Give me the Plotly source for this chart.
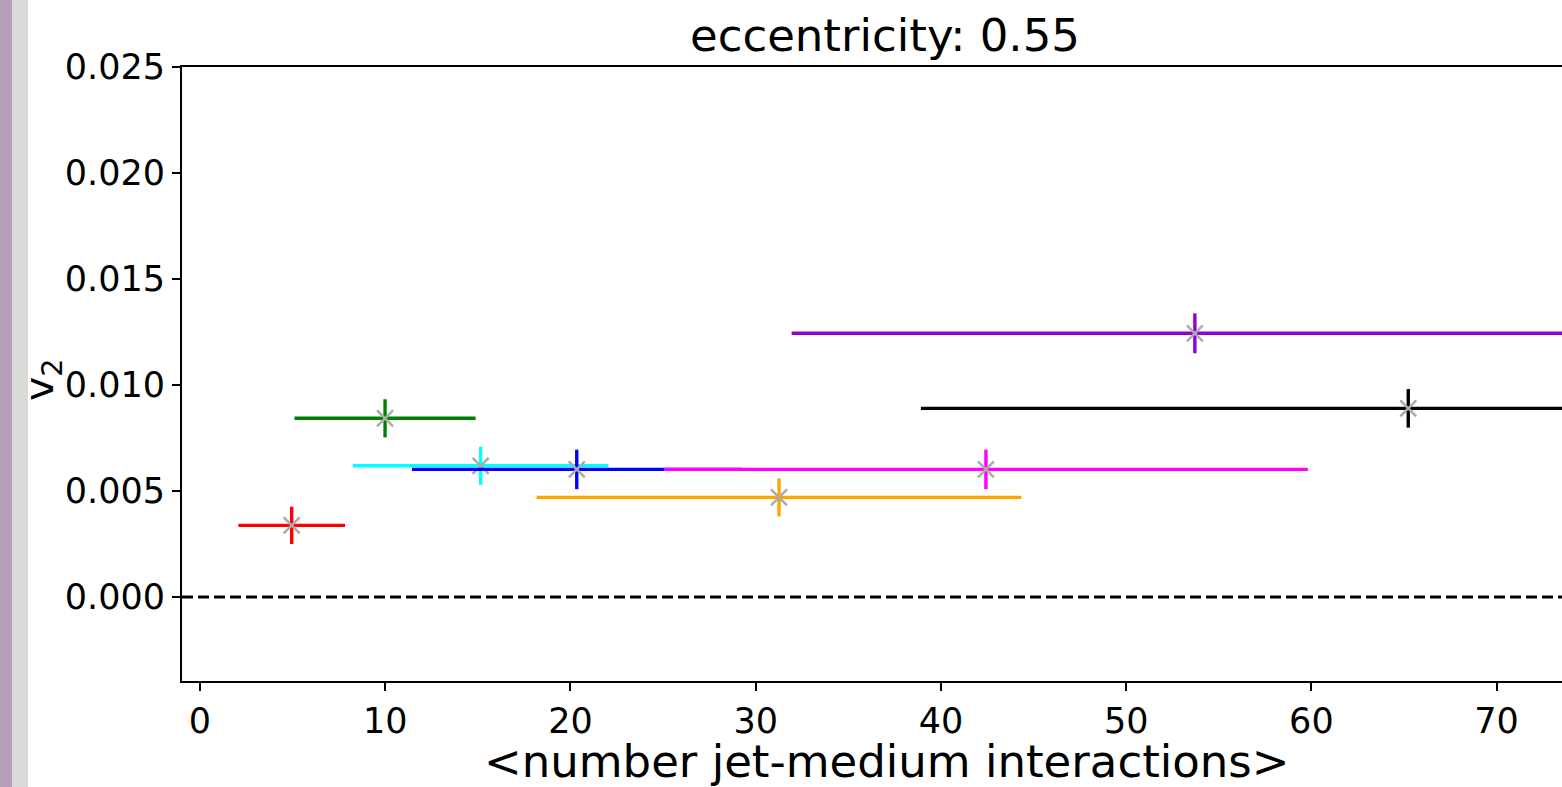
import plotly.graph_objects as go

# ---- data ----
series_names = ["red", "green", "cyan", "blue", "orange", "magenta", "purple", "black"]
series_colors = ["#ff0000", "#008000", "#00ffff", "#0000ff", "#ffa500", "#ff00ff", "#9400d3", "#000000"]
interactions = [4.95, 9.99, 15.15, 20.34, 31.26, 42.43, 53.71, 65.23]
interactions_err = [2.88, 4.89, 6.90, 8.90, 13.09, 17.38, 21.77, 26.31]
v2 = [0.00338, 0.00843, 0.00619, 0.00602, 0.00470, 0.00602, 0.01244, 0.00890]
v2_err = [0.00088, 0.00090, 0.00090, 0.00093, 0.00090, 0.00093, 0.00094, 0.00091]

x_ticks = [0, 10, 20, 30, 40, 50, 60, 70]
y_ticks = [0.0, 0.005, 0.010, 0.015, 0.020, 0.025]
y_ticktext = ["%.3f" % v for v in y_ticks]

title_text = "eccentricity: 0.55"
x_label = "&lt;number jet-medium interactions&gt;"
y_label = "v<sub>2</sub>"

FONT = "DejaVu Sans"
W, H = 1562, 787
L, R, T, B = 182, 0, 67, 106

fig = go.Figure()

for name, col, x, xe, y, ye in zip(series_names, series_colors, interactions,
                                   interactions_err, v2, v2_err):
    fig.add_trace(go.Scatter(
        x=[x], y=[y], name=name, mode="markers",
        marker=dict(symbol="x-thin", size=16, color="#aaaaaa",
                    line=dict(width=2.4, color="#aaaaaa")),
        error_x=dict(type="data", array=[xe], symmetric=True,
                     color=col, thickness=3.4, width=0),
        error_y=dict(type="data", array=[ye], symmetric=True,
                     color=col, thickness=3.4, width=0),
        showlegend=False,
    ))

fig.add_hline(y=0, line=dict(color="black", width=3, dash="11px,5px"))

pw = W - L - R
ph = H - T - B

# left strip seen in the reference screenshot
fig.add_shape(type="rect", xref="paper", yref="paper",
              x0=(0 - L) / pw, x1=(12 - L) / pw, y0=-B / ph, y1=(H - B) / ph,
              fillcolor="#b89fb9", line=dict(width=0), layer="below")
fig.add_shape(type="rect", xref="paper", yref="paper",
              x0=(12 - L) / pw, x1=(28 - L) / pw, y0=-B / ph, y1=(H - B) / ph,
              fillcolor="#d9dbd8", line=dict(width=0), layer="below")

fig.add_annotation(text=title_text, xref="paper", yref="paper",
                   x=(885 - L) / pw, y=1, yanchor="bottom", xanchor="center",
                   yshift=3, showarrow=False,
                   font=dict(family=FONT, size=45, color="black"))
fig.add_annotation(text=x_label, xref="paper", yref="paper",
                   x=(886 - L) / pw, y=(H - B - 761) / ph, yanchor="middle",
                   xanchor="center", showarrow=False,
                   font=dict(family=FONT, size=45, color="black"))
fig.add_annotation(text=y_label, xref="paper", yref="paper",
                   x=(42 - L) / pw, y=(H - B - 380) / ph, yanchor="middle",
                   xanchor="center", textangle=-90, showarrow=False,
                   font=dict(family=FONT, size=41, color="black"))

fig.update_layout(
    width=W, height=H,
    margin=dict(l=L, r=R, t=T, b=B, pad=0),
    paper_bgcolor="white", plot_bgcolor="white",
    font=dict(family=FONT, color="black"),
    xaxis=dict(range=[-0.972, 73.53], tickvals=x_ticks, showgrid=False,
               zeroline=False, showline=True, linecolor="black", linewidth=2,
               mirror=True, ticks="outside", ticklen=8, tickwidth=2,
               tickcolor="black", tickfont=dict(family=FONT, size=35)),
    yaxis=dict(range=[-0.00396, 0.025], tickvals=y_ticks, ticktext=y_ticktext,
               showgrid=False, zeroline=False, showline=True,
               linecolor="black", linewidth=2, ticks="outside", ticklen=8,
               tickwidth=2, tickcolor="black",
               tickfont=dict(family=FONT, size=35)),
)

fig.write_html("out.html")
